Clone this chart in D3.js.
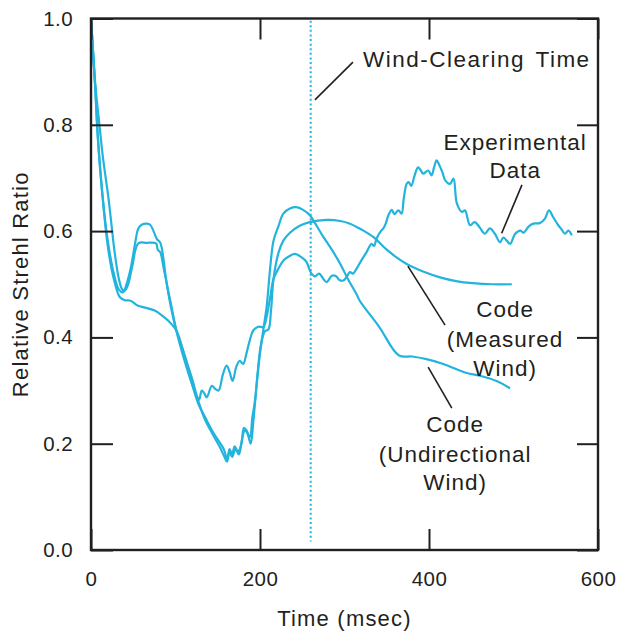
<!DOCTYPE html>
<html>
<head>
<meta charset="utf-8">
<script src="https://cdn.jsdelivr.net/npm/d3@7"></script>
<style>
  body { margin: 0; background: #fff; }
  text { font-family: "Liberation Sans", Arial, sans-serif; fill: #231f20; }
</style>
</head>
<body>
<div class="canvas"></div>
<script>
// values: [time msec, relative strehl ratio]
const experimental = [
  [0, 1.0], [2, 0.95], [5, 0.87], [8, 0.78], [14, 0.66], [20, 0.58], [27, 0.52], [33, 0.49],
  [38, 0.485], [42, 0.5], [47, 0.53], [52, 0.575], [56, 0.605], [60, 0.612], [66, 0.614],
  [70, 0.612], [74, 0.6], [78, 0.585], [82, 0.578], [86, 0.545], [89, 0.507], [95, 0.46],
  [101, 0.413], [110, 0.36], [120, 0.31], [125, 0.29], [128, 0.283], [131, 0.3], [134, 0.295],
  [137, 0.287], [143, 0.309], [147, 0.303], [151, 0.3], [156, 0.33], [160.5, 0.347],
  [164, 0.335], [167.6, 0.318], [172, 0.345], [176, 0.356], [180, 0.35], [184, 0.37],
  [188, 0.395], [192, 0.413], [198, 0.42], [204, 0.42], [208, 0.44], [212, 0.475],
  [216, 0.51], [222, 0.53], [228, 0.545], [235, 0.553], [241, 0.557], [248, 0.552],
  [255, 0.542], [258, 0.53], [261, 0.52], [265, 0.515], [270, 0.52], [275, 0.51], [279, 0.504],
  [285, 0.516], [290, 0.515], [294, 0.508], [298.6, 0.507], [303, 0.515], [306.5, 0.523],
  [310, 0.52], [314.5, 0.53], [320, 0.545], [326, 0.56], [332, 0.576], [335, 0.572],
  [338, 0.586], [343, 0.6], [346, 0.605], [349, 0.615], [352, 0.63], [356, 0.64], [359, 0.632],
  [363.7, 0.639], [367.6, 0.633], [370, 0.66], [373.6, 0.689], [376, 0.692], [379, 0.685],
  [383, 0.705], [387, 0.72], [390, 0.715], [393, 0.708], [399, 0.714], [403, 0.705],
  [406, 0.72], [409, 0.733], [412, 0.725], [416, 0.71], [419, 0.696], [425, 0.689],
  [429, 0.699], [433, 0.652], [439, 0.636], [442.6, 0.639], [448.5, 0.611], [454, 0.617],
  [460, 0.607], [466, 0.595], [472, 0.605], [478, 0.595], [484, 0.579], [488, 0.588],
  [492, 0.582], [496, 0.576], [502, 0.595], [508, 0.601], [512, 0.597], [517.5, 0.608],
  [523.5, 0.614], [531, 0.615], [537, 0.623], [542, 0.639], [547, 0.626], [553, 0.611],
  [557, 0.603], [561, 0.595], [565, 0.601], [569, 0.592]
]

const measuredWind = [
  [0, 1.0], [3, 0.92], [6, 0.86], [10, 0.8], [14, 0.74], [21, 0.658], [28, 0.56], [33, 0.51],
  [37, 0.49], [40, 0.488], [44, 0.5], [49, 0.535], [56, 0.577], [66, 0.578], [77, 0.577],
  [79, 0.565], [82, 0.56], [86, 0.53], [89, 0.507], [93, 0.47], [101, 0.413], [110, 0.37],
  [120, 0.31], [127, 0.275], [135, 0.25], [145, 0.22], [157, 0.19], [161, 0.172], [164, 0.19],
  [167, 0.18], [170, 0.195], [174, 0.185], [178, 0.2], [181, 0.23], [184, 0.225], [188, 0.212],
  [191, 0.25], [194, 0.28], [197, 0.33], [200, 0.375], [203, 0.4], [206, 0.412], [210, 0.415],
  [213, 0.45], [216, 0.51], [222, 0.56], [228, 0.583], [235.5, 0.597], [247, 0.61],
  [259, 0.617], [279, 0.621], [295, 0.619], [306.5, 0.614], [320, 0.603], [334, 0.589],
  [350, 0.565], [362, 0.55], [373.6, 0.538], [393, 0.524], [413, 0.513], [432, 0.506],
  [452, 0.502], [475, 0.5], [498, 0.5]
]

const undirectionalWind = [
  [0, 1.0], [2, 0.95], [5, 0.87], [8.3, 0.77], [14, 0.66], [20, 0.57], [27, 0.51], [34, 0.476],
  [40, 0.47], [47, 0.469], [55, 0.46], [64, 0.456], [76, 0.45], [85, 0.44], [91, 0.432],
  [101, 0.413], [110, 0.37], [120, 0.32], [127, 0.28], [135, 0.245], [145, 0.215],
  [152, 0.195], [158, 0.175], [161, 0.166], [164, 0.185], [167, 0.175], [171, 0.19],
  [175, 0.18], [179, 0.21], [182, 0.225], [185, 0.22], [189, 0.2], [192, 0.24], [196, 0.31],
  [200, 0.37], [204, 0.415], [208, 0.46], [212, 0.53], [216, 0.582], [222, 0.61],
  [227.6, 0.633], [236, 0.643], [243, 0.645], [251, 0.64], [259, 0.63], [267, 0.61],
  [275, 0.589], [285, 0.565], [294.7, 0.539], [304, 0.51], [314, 0.482], [318, 0.469],
  [341, 0.42], [364.5, 0.366], [380, 0.364], [397, 0.359], [417, 0.35], [442.6, 0.334],
  [460, 0.328], [480, 0.318], [496, 0.304]
]

const xTicks = [0, 200, 400, 600]
const yTicks = [0, 0.2, 0.4, 0.6, 0.8, 1.0]
const windClearing = 260

// annotation texts and leader lines, in data units
const labels = [
  {t: 322, v: [0.909], lines: ['Wind-Clearing Time'], anchor: 'start', spacing: 1.5},
  {t: 502, v: [0.753, 0.700], lines: ['Experimental', 'Data'], anchor: 'middle', spacing: 1},
  {t: 490, v: [0.438, 0.382, 0.327], lines: ['Code', '(Measured', 'Wind)'], anchor: 'middle', spacing: 1},
  {t: 431, v: [0.222, 0.166, 0.113], lines: ['Code', '(Undirectional', 'Wind)'], anchor: 'middle', spacing: 1}
]
const leaders = [
  [[265, 0.847], [310, 0.918]],
  [[510, 0.687], [486, 0.596]],
  [[375, 0.534], [419, 0.423]],
  [[399, 0.344], [427, 0.267]]
]

const dims = {width: 617, height: 635}
const plot = {left: 91, right: 598, top: 18.5, bottom: 550}
const cyan = '#22b4dc'
const ink = '#231f20'

const svg = d3.select('.canvas')
    .append('svg')
    .attr('width', dims.width)
    .attr('height', dims.height)

const x = d3.scaleLinear().domain([0, 600]).range([plot.left, plot.right])
const y = d3.scaleLinear().domain([0, 1]).range([plot.bottom, plot.top])

//data curves
const line = d3.line()
    .x(d => x(d[0]))
    .y(d => y(d[1]))
    .curve(d3.curveCatmullRom.alpha(0.5))

svg.selectAll('path.series')
    .data([undirectionalWind, measuredWind, experimental])
    .enter()
    .append('path')
    .attr('class', 'series')
    .attr('d', line)
    .attr('fill', 'none')
    .attr('stroke', cyan)
    .attr('stroke-width', 2.2)
    .attr('stroke-linejoin', 'round')

//wind clearing time marker
svg.append('line')
    .attr('x1', x(windClearing)).attr('x2', x(windClearing))
    .attr('y1', y(0.996)).attr('y2', y(0.016))
    .attr('stroke', cyan)
    .attr('stroke-width', 2)
    .attr('stroke-dasharray', '2,2.6')

//axes, ticks pointing inward
const styleAxis = g => {
    g.select('.domain').remove()
    g.selectAll('.tick line').attr('stroke', ink).attr('stroke-width', 2)
    g.selectAll('.tick text')
        .attr('fill', ink)
        .style('font-size', '20.5px')
        .style('letter-spacing', '0.4px')
        .style('font-family', '"Liberation Sans", Arial, sans-serif')
}

svg.append('g')
    .attr('transform', `translate(${plot.left},0)`)
    .call(d3.axisLeft(y).tickValues(yTicks).tickSize(-22).tickPadding(18).tickFormat(d3.format('.1f')))
    .call(styleAxis)

svg.append('g')
    .attr('transform', `translate(0,${plot.bottom})`)
    .call(d3.axisBottom(x).tickValues(xTicks).tickSize(-21).tickPadding(21))
    .call(styleAxis)

svg.append('g')
    .attr('transform', `translate(${plot.right},0)`)
    .call(d3.axisRight(y).tickValues(yTicks).tickSize(-21).tickFormat(''))
    .call(styleAxis)

svg.append('g')
    .attr('transform', `translate(0,${plot.top})`)
    .call(d3.axisTop(x).tickValues(xTicks).tickSize(-21).tickFormat(''))
    .call(styleAxis)

//frame
svg.append('rect')
    .attr('x', plot.left).attr('y', plot.top)
    .attr('width', plot.right - plot.left)
    .attr('height', plot.bottom - plot.top)
    .attr('fill', 'none')
    .attr('stroke', ink)
    .attr('stroke-width', 2.4)

//axis titles
svg.append('text')
    .attr('x', (plot.left + plot.right) / 2)
    .attr('y', 626)
    .attr('text-anchor', 'middle')
    .style('font-size', '22px')
    .style('letter-spacing', '1.2px')
    .text('Time (msec)')

svg.append('text')
    .attr('transform', `translate(28,${(plot.top + plot.bottom) / 2}) rotate(-90)`)
    .attr('text-anchor', 'middle')
    .style('font-size', '22px')
    .style('letter-spacing', '1.2px')
    .text('Relative Strehl Ratio')

//annotations
svg.selectAll('line.leader')
    .data(leaders)
    .enter()
    .append('line')
    .attr('class', 'leader')
    .attr('x1', d => x(d[0][0])).attr('y1', d => y(d[0][1]))
    .attr('x2', d => x(d[1][0])).attr('y2', d => y(d[1][1]))
    .attr('stroke', ink)
    .attr('stroke-width', 1.6)

labels.forEach(l => {
    l.lines.forEach((s, i) => {
        svg.append('text')
            .attr('x', x(l.t))
            .attr('y', y(l.v[i]))
            .attr('text-anchor', l.anchor)
            .style('font-size', '22.5px')
            .style('letter-spacing', `${l.spacing}px`)
            .style('word-spacing', '3px')
            .text(s)
    })
})
</script>
</body>
</html>
